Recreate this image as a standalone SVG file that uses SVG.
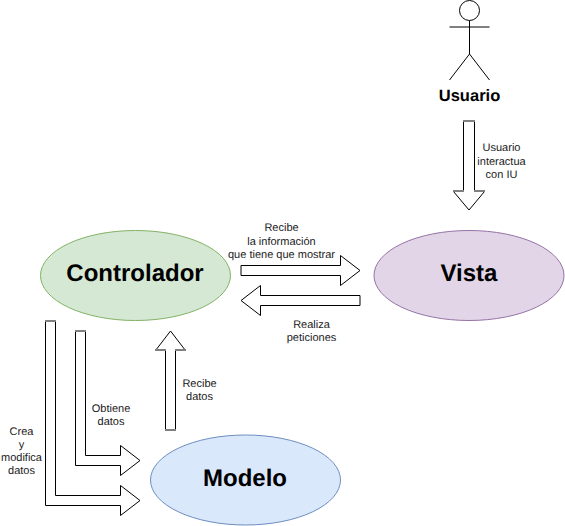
<svg xmlns="http://www.w3.org/2000/svg" width="565" height="526" viewBox="0 0 565 526">
<style>
.arrow{fill:#fff;stroke:#000;stroke-width:1;stroke-linejoin:miter}
.end{fill:none;stroke:#808080;stroke-width:2}
text{opacity:.999;text-rendering:geometricPrecision}
.lbl{font-family:"Liberation Sans",Arial,sans-serif;font-size:11px;fill:#1a1a1a;text-anchor:middle}
.big{font-family:"Liberation Sans",Arial,sans-serif;font-size:24px;font-weight:bold;fill:#000;text-anchor:middle}
.actor{fill:none;stroke:#000;stroke-width:1}
</style>
<rect width="565" height="526" fill="#fff"/>
<g id="connectors">
<g id="c-usuario-vista">
<path class="arrow" d="M463.5 121H474.5V191.5H484.5L469 210L453.5 191.5H463.5Z"/>
<path class="end" d="M463 121H475M453 191H464M474 191H485"/>
<text class="lbl" x="501.5" y="151">Usuario</text><text class="lbl" x="501.5" y="165">interactua</text><text class="lbl" x="501.5" y="178">con IU</text>
</g>
<g id="c-controlador-vista">
<path class="arrow" d="M241 265.5H340.5V255.5L360 270.5L340.5 285.5V275.5H241Z"/>
<text class="lbl" x="281.5" y="231">Recibe</text><text class="lbl" x="281.5" y="245">la información</text><text class="lbl" x="281.5" y="258">que tiene que mostrar</text>
</g>
<g id="c-vista-controlador">
<path class="arrow" d="M360 295.5H260.5V285.5L241 300.5L260.5 315.5V305.5H360Z"/>
<text class="lbl" x="311.5" y="328">Realiza</text><text class="lbl" x="311.5" y="341">peticiones</text>
</g>
<g id="c-modelo-controlador">
<path class="arrow" d="M165.5 430V350.5H155.5L170.5 331L185.5 350.5H175.5V430Z"/>
<path class="end" d="M165 430H176M155 350H166M175 350H186"/>
<text class="lbl" x="199.5" y="387">Recibe</text><text class="lbl" x="199.5" y="400">datos</text>
</g>
<g id="c-controlador-modelo-obtiene">
<path class="arrow" d="M75.5 331H85.5V455.5H120.5V445.5L140 460.5L120.5 475.5V465.5H75.5Z"/>
<path class="end" d="M75 331H86"/>
<text class="lbl" x="111" y="412">Obtiene</text><text class="lbl" x="111" y="425">datos</text>
</g>
<g id="c-controlador-modelo-crea">
<path class="arrow" d="M45.5 321H55.5V495.5H120.5V485.5L140 500.5L120.5 515.5V505.5H45.5Z"/>
<path class="end" d="M45 321H56"/>
<text class="lbl" x="21.5" y="435">Crea</text><text class="lbl" x="21.5" y="448">y</text><text class="lbl" x="21.5" y="461">modifica</text><text class="lbl" x="21.5" y="474">datos</text>
</g>
</g>
<g id="usuario">
<circle class="actor" cx="469.5" cy="10.5" r="10"/>
<path class="actor" d="M469.5 20.5V54M449.5 27H489.5M449.5 80L469.5 54L489.5 80"/>
<text x="469.5" y="101" font-family="'Liberation Sans',Arial,sans-serif" font-size="16.5" font-weight="bold" text-anchor="middle" fill="#000">Usuario</text>
</g>
<g id="controlador">
<ellipse cx="135.5" cy="275.5" rx="95" ry="45" fill="#d5e8d4" stroke="#82b366"/>
<text class="big" x="135" y="281">Controlador</text>
</g>
<g id="vista">
<ellipse cx="469" cy="275.5" rx="95" ry="45" fill="#e1d5e7" stroke="#9673a6"/>
<text class="big" x="469" y="281">Vista</text>
</g>
<g id="modelo">
<ellipse cx="245.5" cy="480" rx="95" ry="45" fill="#dae8fc" stroke="#6c8ebf"/>
<text class="big" x="245" y="486">Modelo</text>
</g>
</svg>
